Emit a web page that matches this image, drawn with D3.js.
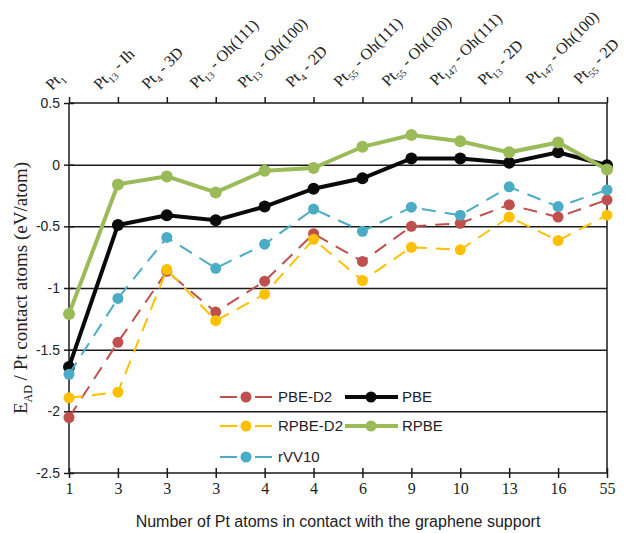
<!DOCTYPE html>
<html lang="en">
<head>
<meta charset="utf-8">
<title>Adsorption energy per Pt contact atom</title>
<script src="https://cdn.jsdelivr.net/npm/d3@7/dist/d3.min.js"></script>
<style>
body { margin: 0; background: #fff; }
.axis path, .axis line { stroke: #1a1a1a; stroke-width: 1.5px; }
.ylab text { font: 14px "Liberation Sans", Arial, sans-serif; fill: #222; }
.xlab text { font: 16px "Liberation Serif", "Times New Roman", serif; fill: #222; }
.toplab { font: 16px "Liberation Serif", "Times New Roman", serif; fill: #222; }
.grid line { stroke: #1a1a1a; stroke-width: 1.5px; }
.grid path { display: none; }
.legend text { font: 15px "Liberation Sans", Arial, sans-serif; fill: #222; }
</style>
</head>
<body>
<svg width="627" height="533"></svg>
<script>

// categories: number of contact atoms (bottom) and cluster names (top)
var contactAtoms = ["1","3","3","3","4","4","6","9","10","13","16","55"];
var clusterSub = ["1","13","4","13","13","4","55","55","147","13","147","55"];
var clusterSuffix = [""," - Ih"," - 3D"," - Oh(111)"," - Oh(100)"," - 2D"," - Oh(111)"," - Oh(100)"," - Oh(111)"," - 2D"," - Oh(100)"," - 2D"];

var yTicks = [0.5, 0, -0.5, -1, -1.5, -2, -2.5];

// series, eV/atom
var pbe    = [-1.64, -0.49, -0.41, -0.45, -0.34, -0.195, -0.11, 0.05, 0.05, 0.015, 0.10, -0.005];
var rpbe   = [-1.21, -0.16, -0.095, -0.225, -0.05, -0.027, 0.145, 0.24, 0.19, 0.10, 0.18, -0.04];
var pbeD2  = [-2.05, -1.44, -0.865, -1.195, -0.945, -0.56, -0.785, -0.50, -0.475, -0.325, -0.425, -0.285];
var rpbeD2 = [-1.89, -1.845, -0.85, -1.265, -1.05, -0.605, -0.94, -0.67, -0.69, -0.425, -0.615, -0.41];
var rvv10  = [-1.70, -1.085, -0.59, -0.84, -0.645, -0.36, -0.54, -0.345, -0.41, -0.18, -0.34, -0.205];

var series = [
  {name: "PBE",     values: pbe,    color: "#0a0a0a", dashed: false},
  {name: "RPBE",    values: rpbe,   color: "#9bbb59", dashed: false},
  {name: "PBE-D2",  values: pbeD2,  color: "#c0504d", dashed: true},
  {name: "RPBE-D2", values: rpbeD2, color: "#ffc000", dashed: true},
  {name: "rVV10",   values: rvv10,  color: "#4bacc6", dashed: true}
];

var svg = d3.select("svg"),
    margin = {top: 103, right: 20, bottom: 60, left: 69},
    width = 627 - margin.left - margin.right,
    height = 533 - margin.top - margin.bottom;

var g = svg.append("g").attr("transform", "translate(" + margin.left + "," + margin.top + ")");

var x = d3.scalePoint().domain(d3.range(contactAtoms.length)).range([0, width]);
var y = d3.scaleLinear().domain([-2.5, 0.5]).range([height, 0]);

// gridlines
g.append("g")
  .attr("class", "grid")
  .call(d3.axisRight(y).tickValues([0, -0.5, -1, -1.5, -2]).tickSize(width).tickFormat(""));

// right frame
g.append("line")
  .attr("x1", width).attr("x2", width).attr("y1", 0).attr("y2", height)
  .attr("stroke", "#1a1a1a").attr("stroke-width", 1.5);

// left axis
var yAxis = g.append("g")
  .attr("class", "axis ylab")
  .call(d3.axisLeft(y).tickValues(yTicks).tickSize(5).tickFormat(function(d) { return String(d); }));
yAxis.selectAll(".tick line").attr("x1", 5);
yAxis.select(".domain").attr("d", "M0,0V" + height);
yAxis.selectAll("text").attr("x", -9);

// bottom axis
var xAxis = g.append("g")
  .attr("class", "axis xlab")
  .attr("transform", "translate(0," + height + ")")
  .call(d3.axisBottom(x).tickSize(5).tickFormat(function(i) { return contactAtoms[i]; }));
xAxis.selectAll(".tick line").attr("y1", -5);
xAxis.select(".domain").attr("d", "M0,0H" + width);
xAxis.selectAll("text").attr("y", 10);

// top axis ticks
var topAxis = g.append("g")
  .attr("class", "axis")
  .call(d3.axisTop(x).tickSize(6).tickFormat(""));
topAxis.select(".domain").attr("d", "M0,0H" + width);
topAxis.selectAll(".tick text").remove();

// cluster names, slanted 45 degrees
g.append("g").selectAll("text")
  .data(x.domain())
  .enter().append("text")
  .attr("class", "toplab")
  .attr("text-anchor", "start")
  .attr("transform", function(i) {
    var dx = -17 - 0.9 * i, dy = -12 - 0.55 * i;
    return "translate(" + (x(i) + dx) + "," + dy + ") rotate(-45)";
  })
  .each(function(i) {
    var t = d3.select(this);
    t.append("tspan").text("Pt");
    t.append("tspan").attr("font-size", "10px").attr("dy", 4).text(clusterSub[i]);
    t.append("tspan").attr("dy", -4).text(clusterSuffix[i]);
  });

// series
var line = d3.line().x(function(d, i) { return x(i); }).y(function(d) { return y(d); });

series.forEach(function(s) {
  var sg = g.append("g");
  sg.append("path")
    .datum(s.values)
    .attr("fill", "none")
    .attr("stroke", s.color)
    .attr("stroke-width", s.dashed ? 2 : 4)
    .attr("stroke-dasharray", s.dashed ? "14,9" : null)
    .attr("d", line);
  sg.selectAll("circle")
    .data(s.values)
    .enter().append("circle")
    .attr("cx", function(d, i) { return x(i); })
    .attr("cy", function(d) { return y(d); })
    .attr("r", s.dashed ? 5.5 : 6)
    .attr("fill", s.color);
});

// legend
var legendPos = {
  "PBE-D2":  [220, 397], "RPBE-D2": [220, 426], "rVV10": [220, 457],
  "PBE":     [345, 397], "RPBE":    [345, 426]
};
var legend = svg.append("g").attr("class", "legend");
series.forEach(function(s) {
  var p = legendPos[s.name];
  var lg = legend.append("g").attr("transform", "translate(" + p[0] + "," + p[1] + ")");
  if (s.dashed) {
    lg.append("line").attr("x1", 0).attr("x2", 17).attr("stroke", s.color).attr("stroke-width", 2);
    lg.append("line").attr("x1", 35).attr("x2", 52).attr("stroke", s.color).attr("stroke-width", 2);
  } else {
    lg.append("line").attr("x1", 0).attr("x2", 53).attr("stroke", s.color).attr("stroke-width", 4);
  }
  lg.append("circle").attr("cx", 26).attr("r", 5.5).attr("fill", s.color);
  lg.append("text").attr("x", s.dashed ? 58 : 57).attr("dy", "0.36em").text(s.name);
});

// axis titles
var yTitle = svg.append("text")
  .attr("transform", "translate(27," + (margin.top + height / 2) + ") rotate(-90)")
  .attr("text-anchor", "middle")
  .attr("fill", "#222")
  .style("font", "19px 'Liberation Serif', 'Times New Roman', serif");
yTitle.append("tspan").text("E");
yTitle.append("tspan").attr("font-size", "12px").attr("dy", 5).text("AD");
yTitle.append("tspan").attr("dy", -5).text(" / Pt contact atoms (eV/atom)");

svg.append("text")
  .attr("x", margin.left + width / 2)
  .attr("y", 527)
  .attr("text-anchor", "middle")
  .attr("fill", "#222")
  .style("font", "16px 'Liberation Sans', Arial, sans-serif")
  .text("Number of Pt atoms in contact with the graphene support");

</script>
</body>
</html>
